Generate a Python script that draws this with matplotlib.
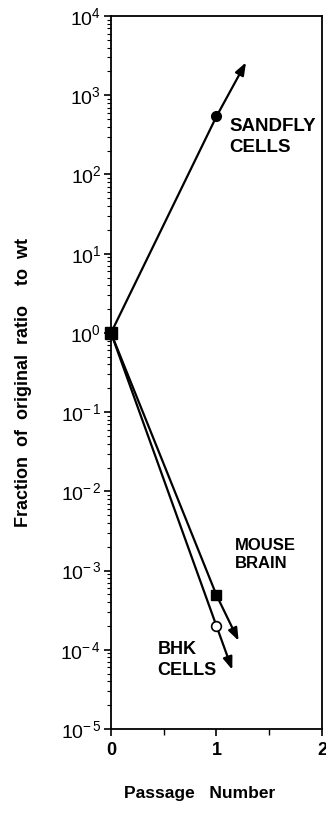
import matplotlib
matplotlib.use("Agg")
import math
import matplotlib.pyplot as plt
from matplotlib.ticker import LogLocator, FixedLocator, NullFormatter, FuncFormatter

plt.rcParams['font.family'] = ['Liberation Sans', 'DejaVu Sans']
plt.rcParams['mathtext.fontset'] = 'custom'
plt.rcParams['mathtext.rm'] = 'Liberation Sans'
plt.rcParams['mathtext.it'] = 'Liberation Sans'
plt.rcParams['mathtext.bf'] = 'Liberation Sans:bold'

# Data
passage = [0, 1]
sandfly = [1.0, 540.0]
mouse = [1.0, 4.9e-4]
bhk = [1.0, 2.0e-4]
# arrow extension tips
sandfly_tip = (1.28, 2600.0)
mouse_tip = (1.21, 1.3e-4)
bhk_tip = (1.15, 5.6e-5)

labels = [
    ("SANDFLY\nCELLS", 1.12, 300.0, 13.5),
    ("MOUSE\nBRAIN", 1.17, 1.6e-3, 12),
    ("BHK\nCELLS", 0.44, 7.4e-5, 13),
]

fig = plt.figure(figsize=(3.26, 8.14), dpi=100)
ax = fig.add_axes([0.3405, 0.1044, 0.647, 0.8759])
ax.set_yscale('log')
ax.set_xlim(0, 2)
ax.set_ylim(1e-5, 1e4)

lw = 1.6
for ys, tip in [(sandfly, sandfly_tip), (mouse, mouse_tip), (bhk, bhk_tip)]:
    ax.plot(passage, ys, color='black', lw=lw, zorder=2, clip_on=False)
    ax.annotate('', xy=tip, xytext=(passage[1], ys[1]),
                arrowprops=dict(arrowstyle='-|>,head_length=0.75,head_width=0.28',
                                color='black', lw=lw, shrinkA=0, shrinkB=0))

ax.plot([passage[1]], [sandfly[1]], 'o', color='black', ms=7, zorder=3)
ax.plot([passage[1]], [mouse[1]], 's', color='black', ms=7, zorder=3)
ax.plot([passage[1]], [bhk[1]], 'o', mfc='white', mec='black', mew=1.2, ms=7, zorder=3)
ax.plot([passage[0]], [sandfly[0]], 's', color='black', ms=9, zorder=4, clip_on=False)

for txt, x, y, fs in labels:
    ax.text(x, y, txt, fontsize=fs, fontweight='bold', ha='left', va='center',
            linespacing=1.3)

ax.yaxis.set_major_locator(LogLocator(base=10, numticks=20))
ax.yaxis.set_minor_locator(LogLocator(base=10, subs=range(2, 10), numticks=20))
ax.yaxis.set_minor_formatter(NullFormatter())

def yfmt(v, pos):
    e = int(round(math.log10(v)))
    if e < 0:
        return r'$10^{\mathrm{-}\,%d}$' % (-e)
    return r'$10^{%d}$' % e
ax.yaxis.set_major_formatter(FuncFormatter(yfmt))

ax.xaxis.set_major_locator(FixedLocator([0, 1, 2]))
ax.xaxis.set_minor_locator(FixedLocator([0.5, 1.5]))
ax.set_xticklabels(['0', '1', '2'], fontweight='bold', fontsize=13)

ax.tick_params(axis='y', which='major', direction='out', length=5, width=1.2, labelsize=14, pad=2)
ax.tick_params(axis='y', which='minor', direction='out', length=3, width=0.8)
ax.tick_params(axis='x', which='major', direction='out', length=5, width=1.2, pad=4)
ax.tick_params(axis='x', which='minor', direction='out', length=4, width=1.0)

for s in ax.spines.values():
    s.set_linewidth(1.3)

fig.text(0.071, 0.53, 'Fraction  of  original  ratio    to  wt', rotation=90,
         fontsize=13, fontweight='bold', ha='center', va='center')
fig.text(0.613, 0.025, 'Passage   Number', fontsize=12.5, fontweight='bold',
         ha='center', va='center')

fig.savefig('out.png', dpi=100)
